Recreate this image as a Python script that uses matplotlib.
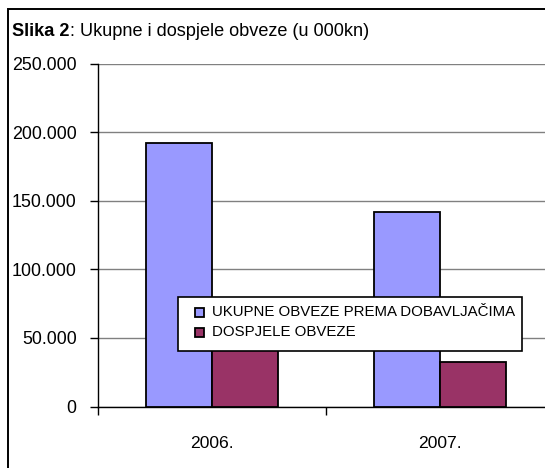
import matplotlib
matplotlib.use("Agg")
import matplotlib.pyplot as plt
from matplotlib.patches import Rectangle
import numpy as np

plt.rcParams['font.family'] = ['Liberation Sans', 'DejaVu Sans']

years = ["2006.", "2007."]
ukupne = [191800, 142000]
dospjele = [52000, 32700]
series_labels = ["UKUPNE OBVEZE PREMA DOBAVLJAČIMA", "DOSPJELE OBVEZE"]
series_colors = ["#9999FF", "#993366"]
yticks = [0, 50000, 100000, 150000, 200000, 250000]
ytick_labels = ["0", "50.000", "100.000", "150.000", "200.000", "250.000"]

W, H = 545, 468
fig = plt.figure(figsize=(W / 100, H / 100), dpi=100)
fig.patch.set_facecolor("white")


def fx(px):
    return px / W


def fy(py):
    return 1 - py / H


# outer chart frame (runs past the right and bottom edges)
fig.patches.append(Rectangle((fx(8), -0.1), 1.2, fy(9) + 0.1,
                             transform=fig.transFigure, fill=False,
                             edgecolor="black", linewidth=1.4))

# title: bold figure number followed by normal text
t1 = fig.text(fx(12), fy(31), "Slika 2", fontsize=13.1, fontweight="bold",
              va="center", ha="left")
fig.canvas.draw()
bb = t1.get_window_extent(fig.canvas.get_renderer())
fig.text(bb.x1 / W, fy(31), ": Ukupne i dospjele obveze (u 000kn)", fontsize=13.1,
         va="center", ha="left")

left, right = fx(98), fx(554)
bottom, top = fy(406.5), fy(63.5)
ax = fig.add_axes([left, bottom, right - left, top - bottom])

x = np.arange(len(years))
bw = 0.29
b1 = ax.bar(x - bw / 2, ukupne, bw, color=series_colors[0], edgecolor="black",
            linewidth=1.3, label=series_labels[0], zorder=3)
b2 = ax.bar(x + bw / 2, dospjele, bw, color=series_colors[1], edgecolor="black",
            linewidth=1.3, label=series_labels[1], zorder=3)

ax.set_xlim(-0.5, 1.5)
ax.set_ylim(0, 250000)
ax.set_yticks(yticks)
ax.set_yticklabels(ytick_labels, fontsize=12.9)
ax.yaxis.grid(True, color="#808080", linewidth=1.0, zorder=0)
ax.set_axisbelow(True)

ax.set_xticks([-0.5, 0.5, 1.5])
ax.set_xticklabels([])
ax.set_xticks(x, minor=True)
ax.set_xticklabels(years, minor=True, fontsize=12.6)
ax.tick_params(axis="x", which="minor", length=0, pad=21)
ax.tick_params(axis="x", which="major", length=6, width=1, direction="out")
ax.tick_params(axis="y", length=6, width=1, direction="out", pad=9.4)

for s in ["top", "right"]:
    ax.spines[s].set_visible(False)
ax.spines["left"].set_linewidth(1.0)
ax.spines["bottom"].set_linewidth(1.0)

# legend box
fig.patches.append(Rectangle((fx(178), fy(351)), fx(522) - fx(178), fy(297) - fy(351),
                             transform=fig.transFigure, facecolor="white",
                             edgecolor="black", linewidth=1.2, zorder=10))
for i, (lab, col) in enumerate(zip(series_labels, series_colors)):
    y0 = 307.7 + i * 20
    fig.patches.append(Rectangle((fx(195), fy(y0 + 9)), fx(204) - fx(195), 9 / H,
                                 transform=fig.transFigure, facecolor=col,
                                 edgecolor="black", linewidth=1.3, zorder=11))
    fig.text(fx(212.5), fy(y0 + 4.5), lab, fontsize=10.8, va="center",
             ha="left", zorder=12)

fig.savefig("out.png", dpi=100)
